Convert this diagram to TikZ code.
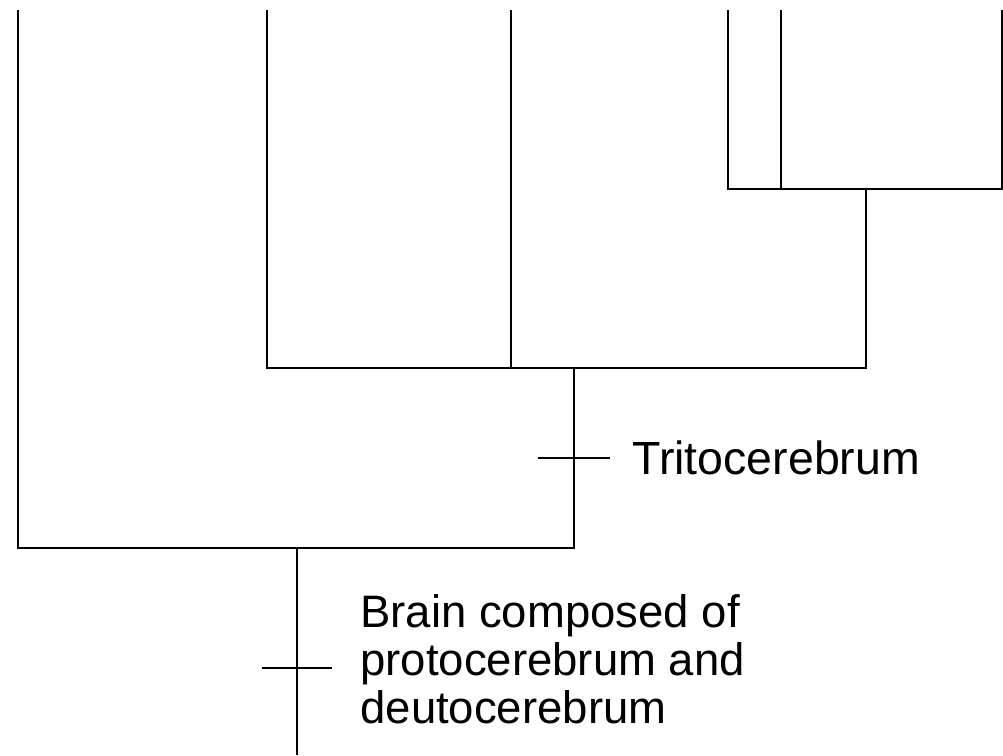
\documentclass[tikz,border=0pt]{standalone}
\usepackage{fontspec}
\setmainfont{Liberation Sans}
\begin{document}
\begin{tikzpicture}[x=1pt,y=-1pt,line width=2.8pt,
    label/.style={inner sep=0pt,anchor=base west,align=left,
      font=\fontsize{45.5}{48}\selectfont}]
    \useasboundingbox (0,0) rectangle (1003,755);
    % branch points
    \coordinate (root) at (297,755);
    \coordinate (n1) at (297,548);
    \coordinate (n2) at (574,368);
    \coordinate (n3) at (866,189);
    % tips
    \coordinate (tipA) at (18,10);
    \coordinate (tipB) at (267,10);
    \coordinate (tipC) at (511,10);
    \coordinate (tipD) at (728,10);
    \coordinate (tipE) at (781,10);
    \coordinate (tipF) at (1002,10);
    \begin{scope}
      \draw (root) -- (n1);
      \draw (tipA) -- (tipA |- n1) -- (n2 |- n1) -- (n2);
      \draw (tipB) -- (tipB |- n2) -- (n3 |- n2) -- (n3);
      \draw (tipC) -- (tipC |- n2);
      \draw (tipD) -- (tipD |- n3) -- (tipF |- n3) -- (tipF);
      \draw (tipE) -- (tipE |- n3);
      % character ticks
      \draw (262,668) -- (332,668);
      \draw (538,458) -- (610,458);
      \node[label,font=\fontsize{46.5}{48}\selectfont] (trito) at (631,474) {Tritocerebrum};
      \node[label] (brain) at (359,723) {Brain composed of\\protocerebrum and\\deutocerebrum};
    \end{scope}
\end{tikzpicture}
\end{document}
